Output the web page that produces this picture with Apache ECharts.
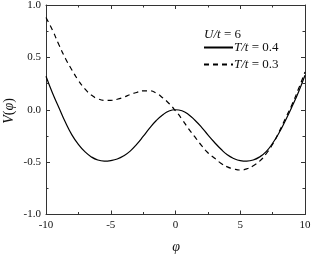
<!DOCTYPE html>
<html><head><meta charset="utf-8">
<script src="https://cdn.jsdelivr.net/npm/echarts@6/dist/echarts.min.js"></script>
<style>html,body{margin:0;padding:0;background:#fff}#c{width:312px;height:256px}</style>
</head><body><div id="c"></div>
<script>
const xTicks = [-10, -5, 0, 5, 10];
const yTicks = [-1.0, -0.5, 0.0, 0.5, 1.0];
const legendTitle = 'U/t = 6';
const seriesNames = ['T/t = 0.4', 'T/t = 0.3'];
const phiA = [-10, -9.5, -9, -8.5, -8, -7.5, -7, -6.5, -6, -5.5, -5, -4.5, -4, -3.5, -3, -2.5, -2, -1.5, -1, -0.5, 0, 0.5, 1, 1.5, 2, 2.5, 3, 3.5, 4, 4.5, 5, 5.5, 6, 6.5, 7, 7.5, 8, 8.5, 9, 9.5, 10];
const vA = [0.32, 0.16, 0.02, -0.12, -0.24, -0.33, -0.40, -0.45, -0.48, -0.49, -0.485, -0.47, -0.44, -0.395, -0.33, -0.255, -0.175, -0.105, -0.05, -0.012, 0.00, -0.01, -0.045, -0.10, -0.165, -0.24, -0.31, -0.375, -0.43, -0.465, -0.485, -0.49, -0.48, -0.45, -0.40, -0.32, -0.22, -0.10, 0.03, 0.17, 0.33];
const phiB = [-10, -9.5, -9, -8.5, -8, -7.5, -7, -6.5, -6, -5.5, -5, -4.5, -4, -3.5, -3, -2.5, -2, -1.5, -1, -0.5, 0, 0.5, 1, 1.5, 2, 2.5, 3, 3.5, 4, 4.5, 5, 5.5, 6, 6.5, 7, 7.5, 8, 8.5, 9, 9.5, 10];
const vB = [0.88, 0.76, 0.62, 0.49, 0.38, 0.28, 0.20, 0.14, 0.105, 0.09, 0.09, 0.10, 0.12, 0.145, 0.165, 0.18, 0.18, 0.16, 0.115, 0.06, -0.01, -0.09, -0.18, -0.26, -0.34, -0.41, -0.46, -0.51, -0.545, -0.565, -0.575, -0.565, -0.535, -0.49, -0.42, -0.33, -0.21, -0.08, 0.05, 0.20, 0.36];
const xName = 'φ';
const yName = '{i|V}{n|(}{i|φ}{n|)}';

const FONT = 'Liberation Serif';
const AX = '#333';
const chart = echarts.init(document.getElementById('c'), null, {renderer: 'canvas'});
function axisCommon(showLabel) {
  return {
    axisLine: {show: true, onZero: false, lineStyle: {color: AX, width: 1}},
    axisTick: {show: true, inside: true, length: 4, lineStyle: {color: AX}},
    minorTick: {show: true, splitNumber: 2, length: 2.5, lineStyle: {color: AX}},
    splitLine: {show: false},
    axisLabel: {show: showLabel}
  };
}
const base = {type: 'value', min: xTicks[0], max: xTicks[xTicks.length - 1], interval: xTicks[1] - xTicks[0]};
const ybase = {type: 'value', min: yTicks[0], max: yTicks[yTicks.length - 1], interval: yTicks[1] - yTicks[0]};
const richNames = {
  i: {fontFamily: FONT, fontStyle: 'italic', fontSize: 14, fill: '#111'},
  n: {fontFamily: FONT, fontSize: 14, fill: '#111'}
};
const option = {
  animation: false,
  grid: {left: 46, right: 7, top: 5, bottom: 41.5, containLabel: false, outerBoundsMode: 'none'},
  xAxis: [
    Object.assign({}, base, axisCommon(true), {
      position: 'bottom',
      axisLabel: {show: true, margin: 5, color: '#111', fontFamily: FONT, fontSize: 11}
    }),
    Object.assign({}, base, axisCommon(false), {position: 'top'})
  ],
  yAxis: [
    Object.assign({}, ybase, axisCommon(true), {
      position: 'left',
      axisLabel: {show: true, margin: 5, color: '#111', fontFamily: FONT, fontSize: 11,
        formatter: v => v.toFixed(1)}
    }),
    Object.assign({}, ybase, axisCommon(false), {position: 'right'})
  ],
  legend: {
    orient: 'vertical', left: 198, top: 36, itemWidth: 29, itemHeight: 10, itemGap: 4,
    data: seriesNames,
    itemStyle: {opacity: 0},
    formatter: n => n.replace('T/t', '{i|T/t}').replace(/= (.*)$/, '{n|= $1}'),
    textStyle: {padding: [0, 0, 0, -4], rich: {
      i: {fontFamily: FONT, fontStyle: 'italic', fontSize: 13, color: '#111'},
      n: {fontFamily: FONT, fontSize: 13, color: '#111'}}}
  },
  graphic: [{
    type: 'text', left: 204, top: 28,
    style: {
      text: '{i|U/t} {n|= 6}',
      rich: {
        i: {fontFamily: FONT, fontStyle: 'italic', fontSize: 13, fill: '#111'},
        n: {fontFamily: FONT, fontSize: 13, fill: '#111'}}
    }
  }, {
    type: 'text', x: 176, y: 247,
    style: {text: '{i|' + xName + '}', rich: richNames, align: 'center', verticalAlign: 'middle'}
  }, {
    type: 'text', x: 9, y: 111, rotation: Math.PI / 2,
    style: {text: yName, rich: richNames, align: 'center', verticalAlign: 'middle'}
  }],
  series: [
    {name: seriesNames[0], type: 'line', xAxisIndex: 0, yAxisIndex: 0, symbol: 'none', smooth: true,
      itemStyle: {color: '#000'},
      lineStyle: {color: '#000', width: 1.2, type: 'solid'},
      data: phiA.map((x, i) => [x, vA[i]])},
    {name: seriesNames[1], type: 'line', xAxisIndex: 0, yAxisIndex: 0, symbol: 'none', smooth: true,
      itemStyle: {color: '#000'},
      lineStyle: {color: '#000', width: 1.2, type: [5, 4]},
      data: phiB.map((x, i) => [x, vB[i]])}
  ]
};
chart.setOption(option);
</script>
</body></html>
